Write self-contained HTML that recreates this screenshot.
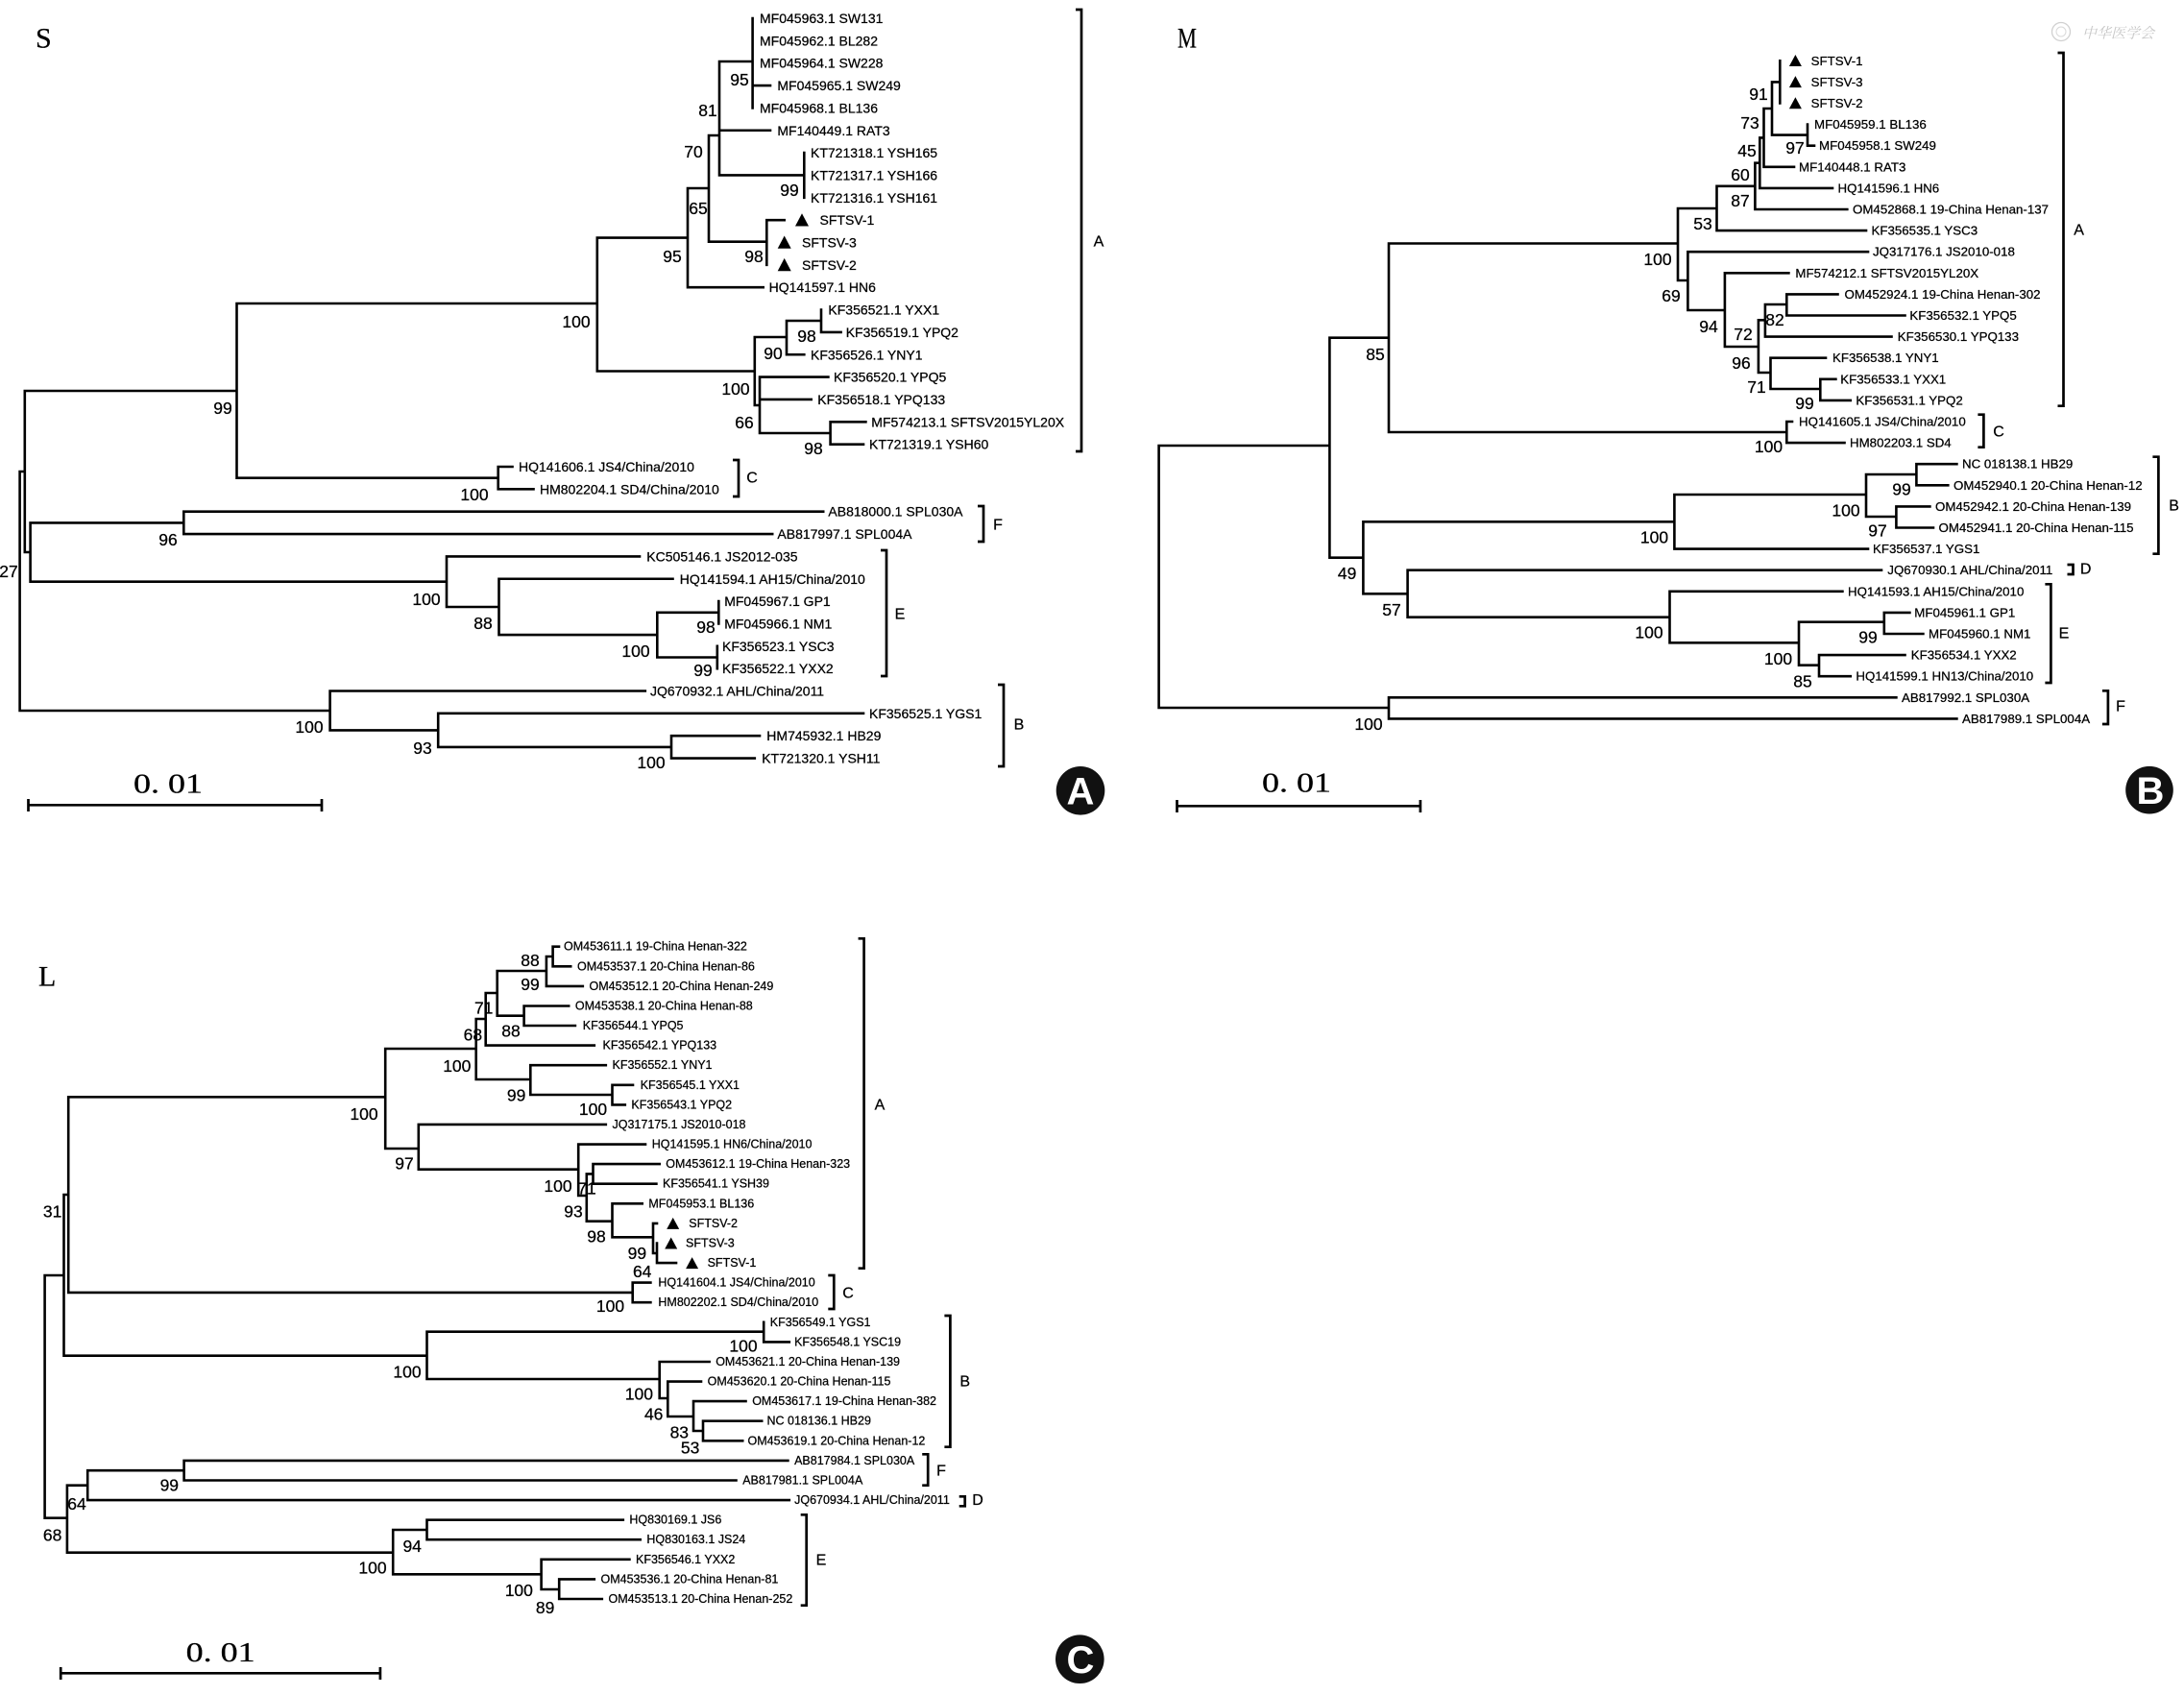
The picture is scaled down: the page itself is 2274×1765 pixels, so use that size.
<!DOCTYPE html>
<html><head><meta charset="utf-8"><style>
html,body{margin:0;padding:0;background:#fff;}
svg{display:block;}
text{font-family:"Liberation Sans",sans-serif;dominant-baseline:central;fill:#000;stroke:#000;stroke-width:0.25;}
.s{font-size:14px;}
.m{font-size:13.3px;}
.t{font-size:12.5px;}
.b{font-size:17.5px;text-anchor:middle;}
.c{font-family:"Liberation Serif",serif;font-size:16px;text-anchor:middle;}
.h{font-family:"Liberation Serif",serif;font-size:30px;}
.sc{font-family:"Liberation Serif",serif;font-size:28px;text-anchor:middle;}
.cl{font-size:40px;font-weight:bold;fill:#fff;stroke:none;text-anchor:middle;}
.ln{fill:none;stroke:#000;stroke-width:2.6;stroke-linecap:square;}
.br{fill:none;stroke:#000;stroke-width:2.7;}
</style></head><body>
<svg width="2274" height="1765" viewBox="0 0 2274 1765" xmlns="http://www.w3.org/2000/svg">
<rect width="2274" height="1765" fill="#fff"/>

<!-- ================= TREE S ================= -->
<text class="h" x="37" y="40">S</text>
<path class="ln" d="
M783.6 19 V112.4 M749 64 V182.45 M837.3 159.1 V205.8 M798.3 229.15 V275.85 M738 141 V251.7 M716 196 V299.2
M855 322.55 V345.9 M819 334 V369.25 M864.6 439.3 V462.65 M791 392.6 V451 M785.8 351 V422 M621.8 247.6 V386.5
M518.7 486 V509.35 M246.5 316 V497.7 M191.3 532.7 V556.05 M748.3 626.1 V649.45 M746.8 672.8 V696.15
M684.3 637.8 V684.5 M519.5 602.75 V661.1 M465 579.4 V632 M31.6 544.4 V605.7 M25.8 407 V575
M699 766.2 V789.55 M456.2 742.85 V777.9 M343.6 719.5 V760.4 M20.6 491 V740
M783.6 89.05 H802 M749 135.75 H802 M749 64 H783.6 M749 182.45 H837.3 M738 141 H749
M798.3 229.15 H816.7 M738 251.7 H798.3 M716 196 H738 M716 299.2 H794.7 M621.8 247.6 H716
M855 345.9 H875.6 M819 334 H855 M819 369.25 H837.3 M785.8 351 H819 M791 392.6 H862.4 M791 415.95 H844.7
M864.6 439.3 H901.4 M864.6 462.65 H899 M791 451 H864.6 M785.8 422 H791 M621.8 386.5 H785.8 M246.5 316 H621.8
M518.7 486 H533.5 M518.7 509.35 H555.5 M246.5 497.7 H518.7 M25.8 407 H246.5
M191.3 532.7 H857.2 M191.3 556.05 H804.2 M31.6 544.4 H191.3
M465 579.4 H666 M519.5 602.75 H700.5 M684.3 637.8 H748.3 M684.3 684.5 H746.8 M519.5 661.1 H684.3 M465 632 H519.5
M31.6 605.7 H465 M25.8 575 H31.6 M20.6 491 H25.8
M343.6 719.5 H671.8 M456.2 742.85 H899 M699 766.2 H791 M699 789.55 H785.8 M456.2 777.9 H699 M343.6 760.4 H456.2 M20.6 740 H343.6
"/>
<g class="s">
<text x="791" y="19">MF045963.1 SW131</text>
<text x="791" y="42.35">MF045962.1 BL282</text>
<text x="791" y="65.7">MF045964.1 SW228</text>
<text x="809.4" y="89.05">MF045965.1 SW249</text>
<text x="791" y="112.4">MF045968.1 BL136</text>
<text x="809.4" y="135.75">MF140449.1 RAT3</text>
<text x="844" y="159.1">KT721318.1 YSH165</text>
<text x="844" y="182.45">KT721317.1 YSH166</text>
<text x="844" y="205.8">KT721316.1 YSH161</text>
<text x="853.5" y="229.15">SFTSV-1</text>
<text x="835" y="252.5">SFTSV-3</text>
<text x="835" y="275.85">SFTSV-2</text>
<text x="800.6" y="299.2">HQ141597.1 HN6</text>
<text x="862.4" y="322.55">KF356521.1 YXX1</text>
<text x="880.7" y="345.9">KF356519.1 YPQ2</text>
<text x="844" y="369.25">KF356526.1 YNY1</text>
<text x="868" y="392.6">KF356520.1 YPQ5</text>
<text x="851.3" y="415.95">KF356518.1 YPQ133</text>
<text x="907.3" y="439.3">MF574213.1 SFTSV2015YL20X</text>
<text x="905" y="462.65">KT721319.1 YSH60</text>
<text x="540" y="486">HQ141606.1 JS4/China/2010</text>
<text x="562" y="509.35">HM802204.1 SD4/China/2010</text>
<text x="862.4" y="532.7">AB818000.1 SPL030A</text>
<text x="809.4" y="556.05">AB817997.1 SPL004A</text>
<text x="673.3" y="579.4">KC505146.1 JS2012-035</text>
<text x="707.8" y="602.75">HQ141594.1 AH15/China/2010</text>
<text x="754.2" y="626.1">MF045967.1 GP1</text>
<text x="754.2" y="649.45">MF045966.1 NM1</text>
<text x="752" y="672.8">KF356523.1 YSC3</text>
<text x="752" y="696.15">KF356522.1 YXX2</text>
<text x="677" y="719.5">JQ670932.1 AHL/China/2011</text>
<text x="905" y="742.85">KF356525.1 YGS1</text>
<text x="798.3" y="766.2">HM745932.1 HB29</text>
<text x="793.2" y="789.55">KT721320.1 YSH11</text>
</g>
<g fill="#000">
<polygon points="835,222.2 828,235.5 842,235.5"/>
<polygon points="816.7,245.5 809.7,258.8 823.7,258.8"/>
<polygon points="816.7,268.9 809.7,282.2 823.7,282.2"/>
</g>
<g class="b">
<text x="770" y="83">95</text><text x="737" y="115">81</text><text x="722" y="158">70</text>
<text x="822" y="198">99</text><text x="727" y="217">65</text><text x="700" y="267">95</text>
<text x="785" y="267">98</text><text x="600" y="335">100</text><text x="840" y="350">98</text>
<text x="805" y="368">90</text><text x="766" y="405">100</text><text x="775" y="440">66</text>
<text x="847" y="467">98</text><text x="232" y="425">99</text><text x="494" y="515">100</text>
<text x="175" y="562">96</text><text x="9" y="595">27</text><text x="444" y="624">100</text>
<text x="503" y="649">88</text><text x="735" y="653">98</text><text x="662" y="678">100</text>
<text x="732" y="698">99</text><text x="322" y="757">100</text><text x="440" y="779">93</text>
<text x="678" y="794">100</text>
</g>
<path class="br" d="M1120 10 H1126 V470 H1120 M763 479 H769 V517 H763 M1018 527 H1024 V564 H1018 M917 573 H923 V704 H917 M1039 713 H1045 V798 H1039"/>
<g class="c">
<text x="1144" y="252">A</text><text x="783" y="498">C</text><text x="1039" y="547">F</text>
<text x="937" y="640">E</text><text x="1061" y="755">B</text>
</g>
<path class="br" d="M29.5 838.3 H335 M29.5 832 V845 M335 832 V845"/>
<text class="sc" x="175" y="817" textLength="72" lengthAdjust="spacingAndGlyphs">0. 01</text>
<circle cx="1125" cy="823.3" r="25.3" fill="#111"/>
<text class="cl" x="1125" y="824.5">A</text>

<!-- ================= TREE M ================= -->
<text class="h" x="1226" y="40" textLength="20" lengthAdjust="spacingAndGlyphs">M</text>
<g opacity="0.55">
<circle cx="2146" cy="33" r="9.5" fill="none" stroke="#aaa" stroke-width="1.3"/>
<circle cx="2146" cy="33" r="5" fill="none" stroke="#bbb" stroke-width="1"/>
<text x="2168" y="34" style="font-family:'Noto Serif CJK SC','Noto Sans CJK SC',serif;font-size:15px;font-style:italic;fill:#999;stroke:none">中华医学会</text>
</g>
<path class="ln" d="
M1853.3 63.3 V107.5 M1882 129.6 V151.7 M1845 85.4 V140.6 M1836.5 113 V173.8 M1832.3 143.4 V195.9 M1827.4 169.7 V218
M1787.5 193.8 V240.1 M1747 217 V292 M1757.4 262.2 V323 M1795.9 284.3 V361 M1830.9 333.3 V388 M1837.9 317 V350.6
M1860.3 306.4 V328.5 M1843.5 372.7 V405 M1895.3 394.8 V416.9 M1860.3 439 V461.1 M1446 253.5 V450 M1384.4 351.7 V580.7
M1419.4 543.3 V618.3 M1743.4 515 V571.6 M1943 494 V538 M1995.4 483.2 V505.3 M1974.4 527.4 V549.5 M1465.6 593.7 V642.7
M1738.5 615.8 V669.3 M1873 647.7 V692.7 M1961.8 637.9 V660 M1894 682.1 V704.2 M1206.6 464 V737 M1446 726.3 V748.4
M1845 85.4 H1853.3 M1882 151.7 H1889 M1845 140.6 H1882 M1836.5 113 H1845 M1836.5 173.8 H1868 M1832.3 143.4 H1836.5
M1832.3 195.9 H1908 M1827.4 169.7 H1832.3 M1827.4 218 H1923.3 M1787.5 193.8 H1827.4 M1787.5 240.1 H1943 M1747 217 H1787.5
M1757.4 262.2 H1945 M1747 292 H1757.4 M1795.9 284.3 H1862.4 M1757.4 323 H1795.9 M1860.3 306.4 H1913.5 M1860.3 328.5 H1983.5
M1837.9 317 H1860.3 M1837.9 350.6 H1969.5 M1830.9 333.3 H1837.9 M1843.5 372.7 H1901 M1895.3 394.8 H1911.4 M1895.3 416.9 H1926.8
M1843.5 405 H1895.3 M1830.9 388 H1843.5 M1795.9 361 H1830.9 M1446 253.5 H1747 M1860.3 439 H1866 M1860.3 461.1 H1920.5
M1446 450 H1860.3 M1384.4 351.7 H1446 M1206.6 464 H1384.4 M1384.4 580.7 H1419.4 M1419.4 543.3 H1743.4 M1743.4 515 H1943
M1743.4 571.6 H1945 M1943 494 H1995.4 M1995.4 483.2 H2037.4 M1995.4 505.3 H2028.3 M1943 538 H1974.4 M1974.4 527.4 H2009.4
M1974.4 549.5 H2013 M1419.4 618.3 H1465.6 M1465.6 593.7 H1959 M1465.6 642.7 H1738.5 M1738.5 615.8 H1918.4 M1738.5 669.3 H1873
M1873 647.7 H1961.8 M1961.8 637.9 H1988.4 M1961.8 660 H2002.4 M1873 692.7 H1894 M1894 682.1 H1983.5 M1894 704.2 H1926.8
M1206.6 737 H1446 M1446 726.3 H1974.4 M1446 748.4 H2037.4
"/>
<g class="m">
<text x="1885.6" y="63.3">SFTSV-1</text>
<text x="1885.6" y="85.4">SFTSV-3</text>
<text x="1885.6" y="107.5">SFTSV-2</text>
<text x="1889" y="129.6">MF045959.1 BL136</text>
<text x="1894" y="151.7">MF045958.1 SW249</text>
<text x="1873" y="173.8">MF140448.1 RAT3</text>
<text x="1913.5" y="195.9">HQ141596.1 HN6</text>
<text x="1929" y="218">OM452868.1 19-China Henan-137</text>
<text x="1948.5" y="240.1">KF356535.1 YSC3</text>
<text x="1950" y="262.2">JQ317176.1 JS2010-018</text>
<text x="1869.4" y="284.3">MF574212.1 SFTSV2015YL20X</text>
<text x="1920.5" y="306.4">OM452924.1 19-China Henan-302</text>
<text x="1988.4" y="328.5">KF356532.1 YPQ5</text>
<text x="1975.8" y="350.6">KF356530.1 YPQ133</text>
<text x="1908" y="372.7">KF356538.1 YNY1</text>
<text x="1916.3" y="394.8">KF356533.1 YXX1</text>
<text x="1932.4" y="416.9">KF356531.1 YPQ2</text>
<text x="1873" y="439">HQ141605.1 JS4/China/2010</text>
<text x="1926" y="461.1">HM802203.1 SD4</text>
<text x="2043" y="483.2">NC 018138.1 HB29</text>
<text x="2034" y="505.3">OM452940.1 20-China Henan-12</text>
<text x="2015" y="527.4">OM452942.1 20-China Henan-139</text>
<text x="2018.5" y="549.5">OM452941.1 20-China Henan-115</text>
<text x="1950" y="571.6">KF356537.1 YGS1</text>
<text x="1965.3" y="593.7">JQ670930.1 AHL/China/2011</text>
<text x="1924" y="615.8">HQ141593.1 AH15/China/2010</text>
<text x="1993.3" y="637.9">MF045961.1 GP1</text>
<text x="2008" y="660">MF045960.1 NM1</text>
<text x="1989.8" y="682.1">KF356534.1 YXX2</text>
<text x="1932.4" y="704.2">HQ141599.1 HN13/China/2010</text>
<text x="1980" y="726.3">AB817992.1 SPL030A</text>
<text x="2043" y="748.4">AB817989.1 SPL004A</text>
</g>
<g fill="#000">
<polygon points="1869.4,57 1862.9,69 1875.9,69"/>
<polygon points="1869.4,79.1 1862.9,91.1 1875.9,91.1"/>
<polygon points="1869.4,101.2 1862.9,113.2 1875.9,113.2"/>
</g>
<g class="b">
<text x="1831" y="98">91</text><text x="1822" y="128">73</text><text x="1869" y="154">97</text>
<text x="1819" y="157">45</text><text x="1812" y="182">60</text><text x="1812" y="209">87</text>
<text x="1773" y="233">53</text><text x="1726" y="270">100</text><text x="1740" y="308">69</text>
<text x="1779" y="340">94</text><text x="1848" y="333">82</text><text x="1815" y="348">72</text>
<text x="1813" y="378">96</text><text x="1829" y="403">71</text><text x="1879" y="420">99</text>
<text x="1432" y="369">85</text><text x="1841.5" y="465">100</text><text x="1722.5" y="559.3">100</text>
<text x="1980" y="509.3">99</text><text x="1922" y="531.7">100</text><text x="1955" y="552.7">97</text>
<text x="1402.6" y="597">49</text><text x="1449" y="635">57</text><text x="1717" y="658.3">100</text>
<text x="1945" y="663.3">99</text><text x="1851.5" y="686">100</text><text x="1877" y="709.3">85</text>
<text x="1425" y="754">100</text>
</g>
<path class="br" d="M2142.5 55 H2148.5 V422.7 H2142.5 M2059.4 431.7 H2065.4 V465.7 H2059.4 M2241.4 475.7 H2247.4 V576.7 H2241.4 M2152.5 588 H2158.5 V598 H2152.5 M2129.4 608.3 H2135.4 V711 H2129.4 M2188.9 719.3 H2194.9 V754 H2188.9"/>
<g class="c">
<text x="2164.6" y="240">A</text><text x="2081" y="450">C</text><text x="2263.6" y="527">B</text>
<text x="2171.6" y="593">D</text><text x="2149" y="660">E</text><text x="2208" y="736">F</text>
</g>
<path class="br" d="M1225.5 839.3 H1478.9 M1225.5 833 V846 M1478.9 833 V846"/>
<text class="sc" x="1350" y="816" textLength="72" lengthAdjust="spacingAndGlyphs">0. 01</text>
<circle cx="2238" cy="822.7" r="24.8" fill="#111"/>
<text class="cl" x="2239" y="824">B</text>

<!-- ================= TREE L ================= -->
<text class="h" x="40" y="1017">L</text>
<path class="ln" d="
M575.6 985.7 V1006.3 M568.9 996 V1026.9 M545.6 1047.5 V1068 M517.7 1011 V1057.7 M505.7 1034 V1088.6 M637.5 1129.8 V1150.4
M552.3 1109.2 V1140 M495.7 1061 V1124 M401.2 1092 V1196 M435.8 1170.9 V1217.7 M602.2 1191.6 V1245 M617.5 1212.1 V1232.7
M610.8 1222.4 V1271.7 M637.5 1253.3 V1288.3 M680 1273.9 V1305 M684 1294.5 V1315.1 M658.7 1335.6 V1356.2 M71.2 1142.3 V1345.9
M66.5 1244 V1411.7 M795.2 1376.8 V1397.4 M444.5 1386.7 V1436 M686.7 1418 V1456 M695.3 1438.6 V1475 M722 1459.1 V1490
M732 1479.7 V1500.3 M46.6 1328 V1580.7 M69.9 1546.7 V1616.7 M91.2 1531.2 V1562.1 M191.6 1520.9 V1541.5 M409.2 1593 V1639.3
M444.5 1582.7 V1603.2 M563.6 1623.8 V1655 M582.2 1644.4 V1665
M575.6 985.7 H582 M575.6 1006.3 H594.2 M568.9 996 H575.6 M568.9 1026.9 H606.8 M545.6 1047.5 H592.2 M545.6 1068 H598.9
M517.7 1011 H568.9 M517.7 1057.7 H545.6 M505.7 1034 H517.7 M505.7 1088.6 H618.8 M495.7 1061 H505.7 M552.3 1109.2 H630.8
M637.5 1129.8 H659 M637.5 1150.4 H650.8 M552.3 1140 H637.5 M495.7 1124 H552.3 M401.2 1092 H495.7 M435.8 1170.9 H630.8
M401.2 1196 H435.8 M602.2 1191.6 H672 M617.5 1212.1 H686.7 M617.5 1232.7 H683.4 M610.8 1222.4 H617.5 M602.2 1245 H610.8
M637.5 1253.3 H668.7 M610.8 1271.7 H637.5 M680 1273.9 H684 M637.5 1288.3 H680 M684 1315.1 H704 M680 1305 H684
M435.8 1217.7 H602.2 M71.2 1142.3 H401.2 M658.7 1335.6 H677.4 M658.7 1356.2 H677.4 M71.2 1345.9 H658.7 M66.5 1244 H71.2
M66.5 1411.7 H444.5 M444.5 1386.7 H795.2 M795.2 1397.4 H821.8 M444.5 1436 H686.7 M686.7 1418 H738.6 M686.7 1456 H695.3
M695.3 1438.6 H730 M695.3 1475 H722 M722 1459.1 H776.5 M722 1490 H732 M732 1479.7 H793.2 M732 1500.3 H773.2
M46.6 1328 H66.5 M46.6 1580.7 H69.9 M69.9 1546.7 H91.2 M91.2 1531.2 H191.6 M191.6 1520.9 H820.4 M191.6 1541.5 H766.5
M91.2 1562.1 H821.8 M69.9 1616.7 H409.2 M409.2 1593 H444.5 M444.5 1582.7 H648.8 M444.5 1603.2 H666.7 M409.2 1639.3 H563.6
M563.6 1623.8 H655.4 M563.6 1655 H582.2 M582.2 1644.4 H618.8 M582.2 1665 H626.8
"/>
<g class="t">
<text x="587" y="985.7">OM453611.1 19-China Henan-322</text>
<text x="601" y="1006.3">OM453537.1 20-China Henan-86</text>
<text x="613.5" y="1026.9">OM453512.1 20-China Henan-249</text>
<text x="598.9" y="1047.5">OM453538.1 20-China Henan-88</text>
<text x="606.8" y="1068">KF356544.1 YPQ5</text>
<text x="627.5" y="1088.6">KF356542.1 YPQ133</text>
<text x="637.5" y="1109.2">KF356552.1 YNY1</text>
<text x="666.7" y="1129.8">KF356545.1 YXX1</text>
<text x="657.4" y="1150.4">KF356543.1 YPQ2</text>
<text x="637.5" y="1170.9">JQ317175.1 JS2010-018</text>
<text x="678.7" y="1191.6">HQ141595.1 HN6/China/2010</text>
<text x="693.3" y="1212.1">OM453612.1 19-China Henan-323</text>
<text x="690" y="1232.7">KF356541.1 YSH39</text>
<text x="675.4" y="1253.3">MF045953.1 BL136</text>
<text x="717.3" y="1273.9">SFTSV-2</text>
<text x="714" y="1294.5">SFTSV-3</text>
<text x="736.6" y="1315.1">SFTSV-1</text>
<text x="685.4" y="1335.6">HQ141604.1 JS4/China/2010</text>
<text x="685.4" y="1356.2">HM802202.1 SD4/China/2010</text>
<text x="801.8" y="1376.8">KF356549.1 YGS1</text>
<text x="827.1" y="1397.4">KF356548.1 YSC19</text>
<text x="745.2" y="1418">OM453621.1 20-China Henan-139</text>
<text x="736.6" y="1438.6">OM453620.1 20-China Henan-115</text>
<text x="783.2" y="1459.1">OM453617.1 19-China Henan-382</text>
<text x="798.5" y="1479.7">NC 018136.1 HB29</text>
<text x="778.5" y="1500.3">OM453619.1 20-China Henan-12</text>
<text x="827.1" y="1520.9">AB817984.1 SPL030A</text>
<text x="773.2" y="1541.5">AB817981.1 SPL004A</text>
<text x="827.1" y="1562.1">JQ670934.1 AHL/China/2011</text>
<text x="655.4" y="1582.7">HQ830169.1 JS6</text>
<text x="673.4" y="1603.2">HQ830163.1 JS24</text>
<text x="662" y="1623.8">KF356546.1 YXX2</text>
<text x="625.5" y="1644.4">OM453536.1 20-China Henan-81</text>
<text x="633.5" y="1665">OM453513.1 20-China Henan-252</text>
</g>
<g fill="#000">
<polygon points="700.7,1267.9 694.2,1279.9 707.2,1279.9"/>
<polygon points="698.7,1288.5 692.2,1300.5 705.2,1300.5"/>
<polygon points="720.6,1309.1 714.1,1321.1 727.1,1321.1"/>
</g>
<g class="b">
<text x="552" y="1000">88</text><text x="552" y="1025">99</text><text x="503.7" y="1049.3">71</text>
<text x="532" y="1073.3">88</text><text x="492.4" y="1077.3">68</text><text x="475.8" y="1110">100</text>
<text x="537.6" y="1140.7">99</text><text x="617.5" y="1155">100</text><text x="379" y="1160">100</text>
<text x="421" y="1211.7">97</text><text x="581" y="1235">100</text><text x="611" y="1237.3">71</text>
<text x="597" y="1261.7">93</text><text x="621" y="1287.3">98</text><text x="663.4" y="1305">99</text>
<text x="668.7" y="1324">64</text><text x="54.6" y="1261.7">31</text><text x="635.5" y="1360">100</text>
<text x="774" y="1401.7">100</text><text x="424" y="1428.3">100</text><text x="665.4" y="1451.7">100</text>
<text x="680.7" y="1472.7">46</text><text x="707.3" y="1491.7">83</text><text x="718.6" y="1507.3">53</text>
<text x="176.3" y="1546.7">99</text><text x="80" y="1566">64</text><text x="54.6" y="1598.3">68</text>
<text x="429.2" y="1610">94</text><text x="388" y="1632.7">100</text><text x="540.3" y="1656">100</text>
<text x="567.6" y="1674">89</text>
</g>
<path class="br" d="M893.6 977.3 H899.6 V1320.7 H893.6 M862.3 1328 H868.3 V1363 H862.3 M983.4 1370 H989.4 V1506.7 H983.4 M960.2 1514.3 H966.2 V1546.7 H960.2 M998.7 1558.3 H1004.7 V1568.3 H998.7 M833.7 1577.3 H839.7 V1671.7 H833.7"/>
<g class="c">
<text x="916" y="1151">A</text><text x="883" y="1347">C</text><text x="1004.7" y="1439">B</text>
<text x="980" y="1532">F</text><text x="1018" y="1562.3">D</text><text x="855" y="1625">E</text>
</g>
<path class="br" d="M63.2 1742.3 H395.9 M63.2 1736 V1749 M395.9 1736 V1749"/>
<text class="sc" x="229.6" y="1721.7" textLength="72" lengthAdjust="spacingAndGlyphs">0. 01</text>
<circle cx="1124.3" cy="1727.7" r="25.3" fill="#111"/>
<text class="cl" x="1125" y="1729">C</text>
</svg>
</body></html>
